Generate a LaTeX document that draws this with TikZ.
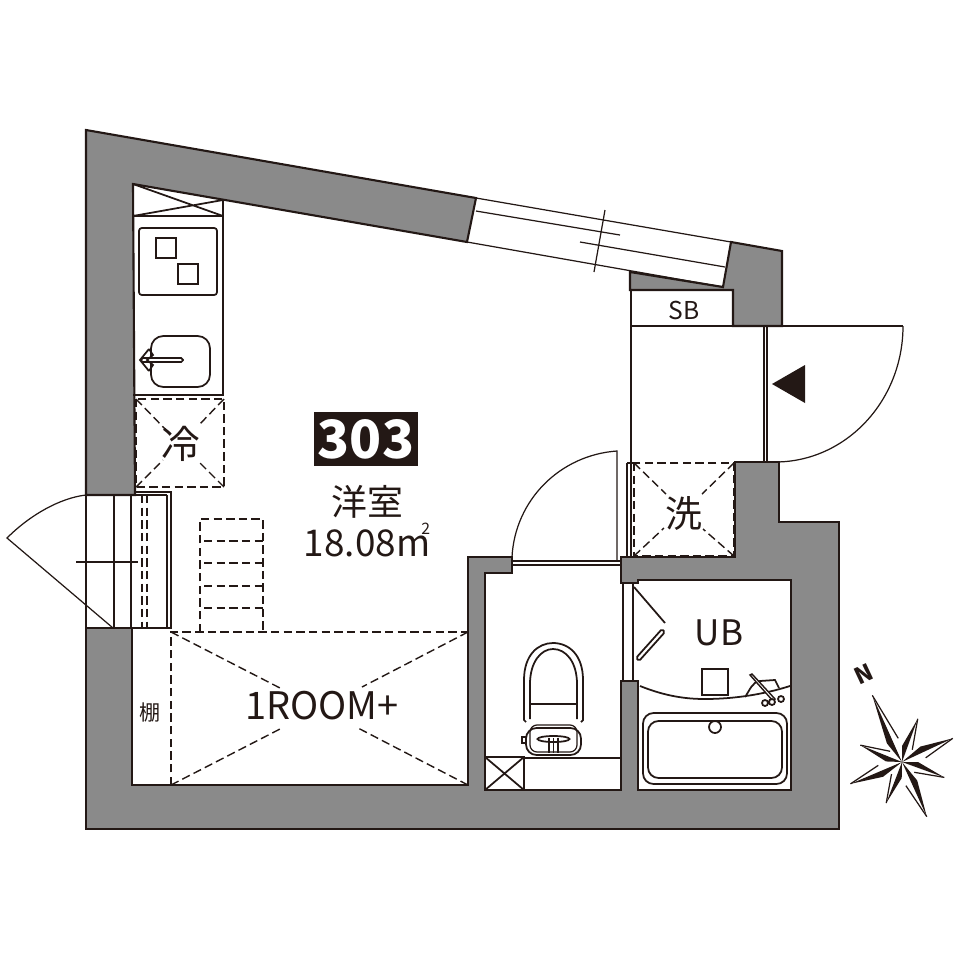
\documentclass[tikz,border=0pt]{standalone}
\usepackage{fontspec}
\setmainfont{Noto Sans CJK JP}
\definecolor{wallgray}{HTML}{8A8A8A}
\definecolor{inkblack}{HTML}{231815}
\tikzset
{
    wall/.style = {fill=wallgray, draw=inkblack, line width=0.6pt, line join=miter},
    thinline/.style = {draw=inkblack, line width=0.35pt},
    fixture/.style = {draw=inkblack, line width=0.5pt},
    dashline/.style = {draw=inkblack, line width=0.4pt, dash pattern=on 2.4pt off 1.2pt},
    label/.style = {text=inkblack, inner sep=0pt, align=center}
}
\begin{document}
\begin{tikzpicture}[x=0.1mm,y=-0.1mm]
\useasboundingbox (0,0) rectangle (960,960);
\draw[wall] (86,130) -- (476,198) -- (467,242) -- (133,184) -- (135,495) -- (86,495) -- cycle;
\draw[wall] (731,242) -- (782,251) -- (782,326) -- (733,326) -- (733,290) -- (630,290) -- (630,272) -- (723,287) -- cycle;
\draw[wall] (86,628) -- (132,628) -- (132,785) -- (468,785) -- (468,557) -- (512,557) -- (512,573) -- (485,573) -- (485,790) -- (621,790) -- (621,681) -- (638,681) -- (638,790) -- (791,790) -- (791,580) -- (638,580) -- (638,583) -- (621,583) -- (621,557) -- (735,557) -- (735,462) -- (779,462) -- (779,522) -- (839,522) -- (839,829) -- (86,829) -- cycle;
% window
\draw[thinline] (476,198) -- (731,242) (467,242) -- (723,287);
\draw[thinline] (476,211) -- (620,235) (580,242) -- (725,267) (605,210) -- (594,272);
% kitchen
\draw[thinline] (223,200) -- (223,395) -- (133,395);
\draw[fixture] (133,216) -- (223,216) (133,184) -- (223,216) (133,216) -- (223,200);
\draw[fixture, rounded corners=0.8pt] (139,228) rectangle (217,295);
\draw[fixture] (156,238) rectangle (176,258) (178,264) rectangle (198,284);
\draw[fixture, rounded corners=3.5pt] (151,336) rectangle (210,387);
\draw[fixture, rounded corners=0.5pt, fill=white] (141,358) rectangle (183,362);
\draw[fixture] (149,349) -- (140,360) -- (149,371) (149,349) -- (153,355) -- (147,360) -- (153,365) -- (149,371);
% fridge
\draw[dashline] (136,399) rectangle (224,487);
\draw[dashline] (136,399) -- (166,430) (224,399) -- (198,426) (136,487) -- (163,460) (224,487) -- (199,462);
\node[label, font=\fontsize{11}{11}\selectfont] (reizo) at (181,444) {冷};
% left door
\draw[thinline] (86,495) -- (86,628) (114,495) -- (114,628) (131,495) -- (131,628);
\draw[thinline] (135,492) -- (171,492) -- (171,628) -- (86,628) (167,495) -- (167,628) (135,495) -- (167,495);
\draw[dashline] (142,495) -- (142,628) (147,495) -- (147,628);
\draw[thinline] (76,562) -- (138,562);
\draw[thinline] (113,628) -- (7,538) .. controls (30,515) and (60,498) .. (86,495);
% stairs and loft
\draw[dashline] (200,632) -- (200,519) -- (263,519) -- (263,632);
\foreach \rung in {541,563,586,608}
{
    \draw[dashline] (204,\rung) -- (263,\rung);
}
\draw[dashline] (171,785) -- (171,632) -- (468,632);
\draw[dashline] (171,632) -- (280,688) (468,632) -- (362,687) (171,785) -- (280,729) (468,785) -- (358,728);
\node[label, font=\fontsize{10.8}{10.8}\selectfont] (loft) at (322,706) {1ROOM+};
\node[label, font=\fontsize{6}{6}\selectfont] (tana) at (150,712) {棚};
% room label
\node[fill=inkblack, text=white, inner sep=0pt, minimum width=104pt*0.2845, minimum height=54pt*0.2845, font=\bfseries\fontsize{15}{15}\selectfont] (roomno) at (366,439) {303};
\node[label, font=\fontsize{10.2}{10.2}\selectfont] (yoshitsu) at (367,502) {洋室};
\node[label, font=\fontsize{10.5}{10.5}\selectfont] (area) at (367,540) {18.08m\raisebox{1.1ex}{\makebox[0pt][r]{\fontsize{4.5}{4.5}\selectfont 2}}};
% entrance
\draw[thinline] (631,290) -- (631,463) (631,326) -- (903,326);
\draw[thinline] (764,326) -- (764,462) (767,326) -- (767,462);
\draw[thinline] (903,326) arc[start angle=0, end angle=-90, x radius=128, y radius=-136];
\fill[inkblack] (772,384) -- (805,365) -- (805,403) -- cycle;
\node[label, font=\fontsize{7}{7}\selectfont] (sb) at (684,310) {SB};
% washer
\draw[thinline] (627,463) -- (627,557) (631,463) -- (631,557) (627,463) -- (634,463);
\draw[dashline] (634,463) rectangle (734,556);
\draw[dashline] (634,463) -- (666,494) (734,463) -- (702,494) (634,556) -- (664,528) (734,556) -- (703,529);
\node[label, font=\fontsize{10.5}{10.5}\selectfont] (sentaku) at (684,513) {洗};
% toilet door
\draw[thinline] (512,561) -- (621,561) (512,565) -- (621,565);
\draw[thinline] (617,560) -- (617,451) .. controls (560,455) and (515,500) .. (512,557);
% toilet
\draw[thinline] (524,758) -- (621,758);
\draw[fixture] (485,757) rectangle (524,790) (485,757) -- (524,790) (485,790) -- (524,757);
\draw[fixture] (526,722) -- (524,720) -- (524,680) .. controls (524,655) and (538,643) .. (553,643) .. controls (569,643) and (583,655) .. (583,680) -- (583,720) -- (581,722);
\draw[fixture] (530,719) -- (530,684) .. controls (530,662) and (541,649) .. (553,649) .. controls (566,649) and (577,662) .. (577,684) -- (577,719);
\draw[thinline] (530,704) -- (577,704);
\draw[fixture, rounded corners=3pt] (526,728) rectangle (581,755);
\draw[thinline, rounded corners=2pt] (530,725) rectangle (577,752);
\draw[fixture] (553.5,739) ellipse [x radius=16, y radius=3];
\draw[thinline] (549,738) -- (549,753) (558,738) -- (558,753) (553.5,738) -- (553.5,753);
\draw[thinline] (526,737) -- (522,737) -- (522,743) -- (526,743);
% bath door
\draw[thinline] (623,583) -- (623,681) (633,583) -- (633,681);
\draw[fixture] (634,587) -- (665,623);
\draw[fixture, rounded corners=0.5pt] (636,658) -- (662,629) -- (665,632) -- (639,661) -- cycle;
% bath
\node[label, font=\fontsize{10}{10}\selectfont] (ub) at (719,633) {UB};
\draw[fixture] (702,669) rectangle (728,695);
\draw[fixture] (640,686) .. controls (665,696) and (685,699) .. (705,699) .. controls (735,699) and (765,694) .. (790,686);
\draw[fixture, rounded corners=3pt] (643,713) rectangle (787,784);
\draw[fixture, rounded corners=3pt] (648,721) rectangle (782,778);
\draw[fixture] (715,727) circle [radius=6];
\draw[fixture] (745,697) .. controls (750,690) and (752,682) .. (760,681) -- (775,680) -- (779,688);
\draw[fixture, fill=white, line width=0.4pt] (750,675) -- (752,674) -- (775,699) -- (773,701) -- cycle;
\draw[fixture, fill=white] (765,703) circle [radius=3] (772,702) circle [radius=3] (781,699) circle [radius=3];
% compass
\begin{scope}[shift={(902,762)}]
\foreach \ang/\len/\wid/\rad in {-70/46/20/16,20/45/20/16,111/44/20/16,202/45/20/16,-114/73/15/24,-25/56/15/24,65.6/60/15/24,157/56/15/24}
{
    \fill[white] (0,0) -- (\ang:\len) -- (\ang+\wid:\rad) -- cycle;
    \draw[thinline] (\ang:\len) -- (\ang+\wid:\rad);
    \fill[inkblack] (0,0) -- (\ang:\len) -- (\ang-\wid:\rad) -- cycle;
}
\end{scope}
\node[label, rotate=25, font=\bfseries\fontsize{6.5}{6.5}\selectfont] (north) at (864,674) {N};
\end{tikzpicture}
\end{document}
